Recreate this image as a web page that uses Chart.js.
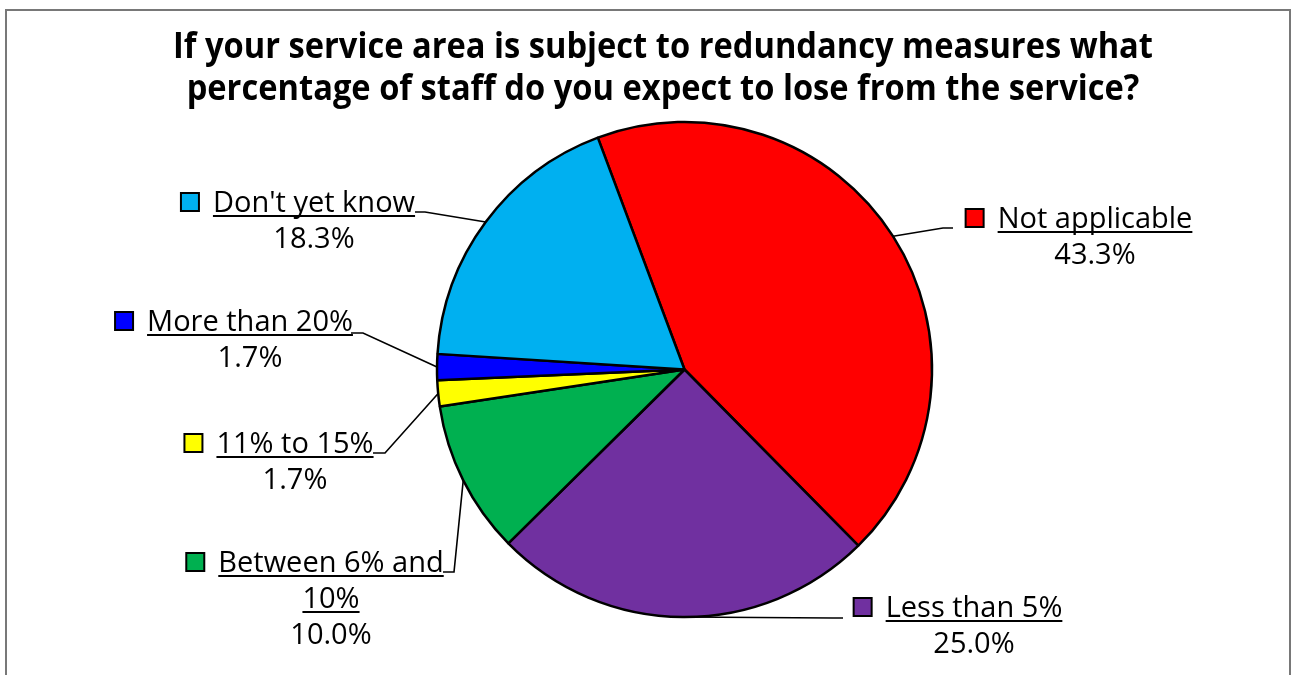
<!DOCTYPE html>
<html>
<head>
<meta charset="utf-8">
<script src="https://cdn.jsdelivr.net/npm/chart.js@4/dist/chart.umd.min.js"></script>
<style>
  body { margin: 0; background: #fff; }
  #moldura { position: absolute; left: 5px; top: 9px; width: 1282px; height: 720px; border: 2px solid #787878; border-bottom: none; }
  #grafico { position: absolute; left: 0; top: 0; }
</style>
</head>
<body>
<div id="moldura"></div>
<canvas id="grafico" width="1291" height="675"></canvas>
<script>
const titulo = [
    'If your service area is subject to redundancy measures what',
    'percentage of staff do you expect to lose from the service?'
];
const categorias = ['Not applicable', 'Less than 5%', 'Between 6% and 10%', '11% to 15%', 'More than 20%', "Don't yet know"];
const percentuais = [43.3, 25.0, 10.0, 1.7, 1.7, 18.3];
const cores = ['#FF0000', '#7030A0', '#00B050', '#FFFF00', '#0000FF', '#00B0F0'];

// posição de cada rótulo: centro do texto, linha de base do nome, cotovelo e fim da linha guia
const posRotulos = [
    { cx: 1095, y: 228, cotovelo: [943, 228], fim: [953, 228] },
    { cx: 974, y: 617, cotovelo: [833, 618], fim: [843, 618] },
    { cx: 331, y: 572, cotovelo: [454, 572], fim: [443, 572] },
    { cx: 295, y: 453, cotovelo: [385, 453], fim: [373, 453] },
    { cx: 250, y: 331, cotovelo: [363, 333], fim: [351, 333] },
    { cx: 314, y: 212, cotovelo: [425, 212], fim: [415, 212] }
];

const fonteTitulo = 'bold 35px "Open Sans"';
const fonteRotulo = '29px "Open Sans"';

// quebra o nome em linhas que caibam na largura
function quebraTexto(ctx, texto, largura) {
    let palavras = texto.split(' ');
    let linhas = [];
    let atual = '';
    palavras.forEach(p => {
        let teste = atual ? atual + ' ' + p : p;
        if (ctx.measureText(teste).width > largura && atual) {
            linhas.push(atual);
            atual = p;
        } else {
            atual = teste;
        }
    });
    linhas.push(atual);
    return linhas;
}

const rotulosPlugin = {
    id: 'rotulos',
    afterDraw(chart) {
        const ctx = chart.ctx;
        const meta = chart.getDatasetMeta(0);
        ctx.save();

        // Título em duas linhas
        ctx.fillStyle = '#000';
        ctx.font = fonteTitulo;
        ctx.textAlign = 'center';
        ctx.textBaseline = 'alphabetic';
        let escala = 980 / ctx.measureText(titulo[0]).width;
        titulo.forEach((linha, i) => {
            ctx.save();
            ctx.translate(663, 58 + i * 42);
            ctx.scale(escala, 1);
            ctx.fillText(linha, 0, 0);
            ctx.restore();
        });

        ctx.font = fonteRotulo;
        meta.data.forEach((arco, i) => {
            let pos = posRotulos[i];
            let { x, y, startAngle, endAngle, outerRadius } = arco.getProps(['x', 'y', 'startAngle', 'endAngle', 'outerRadius'], true);
            let meio = (startAngle + endAngle) / 2;
            let bx = x + Math.cos(meio) * outerRadius;
            let by = y + Math.sin(meio) * outerRadius;

            // Linha guia
            ctx.strokeStyle = '#000';
            ctx.lineWidth = 1.6;
            ctx.beginPath();
            ctx.moveTo(bx, by);
            ctx.lineTo(pos.cotovelo[0], pos.cotovelo[1]);
            ctx.lineTo(pos.fim[0], pos.fim[1]);
            ctx.stroke();

            // Nome sublinhado
            let linhas = quebraTexto(ctx, categorias[i], 240);
            ctx.textAlign = 'center';
            let yLinha = pos.y;
            linhas.forEach((linha, j) => {
                let w = ctx.measureText(linha).width;
                ctx.fillStyle = '#000';
                ctx.fillText(linha, pos.cx, yLinha);
                ctx.fillRect(pos.cx - w / 2, yLinha + 3, w, 2);
                if (j === 0) {
                    // Quadradinho da legenda
                    let esq = pos.cx - w / 2 - 32;
                    ctx.fillStyle = cores[i];
                    ctx.fillRect(esq, yLinha - 19, 18, 18);
                    ctx.lineWidth = 2;
                    ctx.strokeRect(esq, yLinha - 19, 18, 18);
                    ctx.fillStyle = '#000';
                }
                yLinha += 36;
            });

            // Percentual
            ctx.fillText(percentuais[i].toFixed(1) + '%', pos.cx, yLinha);
        });

        ctx.restore();
    }
};

new Chart(document.getElementById('grafico'), {
    type: 'pie',
    data: {
        labels: categorias,
        datasets: [{
            data: percentuais,
            backgroundColor: cores,
            borderColor: '#000',
            borderWidth: 2.5,
            rotation: -20.5,
            radius: 247.5
        }]
    },
    options: {
        responsive: false,
        animation: false,
        events: [],
        devicePixelRatio: 1,
        layout: { padding: { left: 100, right: 22, top: 80, bottom: 16 } },
        plugins: {
            legend: { display: false },
            tooltip: { enabled: false }
        }
    },
    plugins: [rotulosPlugin]
});
</script>
</body>
</html>
